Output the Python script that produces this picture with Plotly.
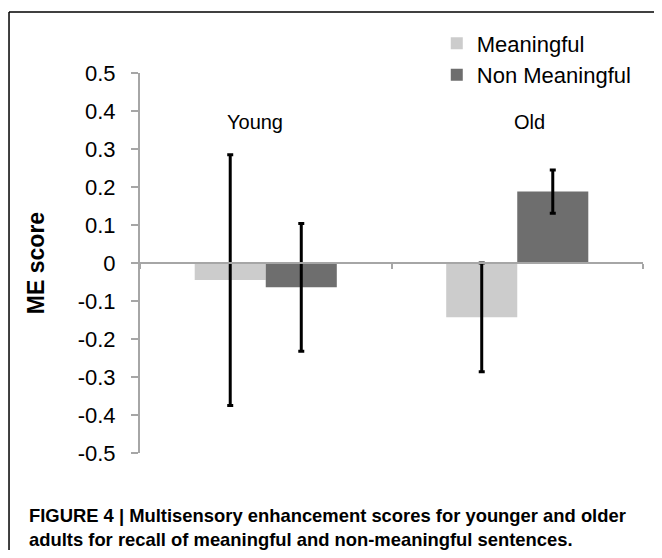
import plotly.graph_objects as go

# ---- data ----
groups = ["Young", "Old"]
series_names = ["Meaningful", "Non Meaningful"]
meaningful = [-0.045, -0.143]
non_meaningful = [-0.064, 0.188]
meaningful_err = [0.330, 0.143]
non_meaningful_err = [0.168, 0.057]
ytick_vals = [0.5, 0.4, 0.3, 0.2, 0.1, 0, -0.1, -0.2, -0.3, -0.4, -0.5]
ytick_text = ["0.5", "0.4", "0.3", "0.2", "0.1", "0", "-0.1", "-0.2", "-0.3", "-0.4", "-0.5"]
y_title = "ME score"
caption = ("FIGURE 4 | Multisensory enhancement scores for younger and older<br>"
           "adults for recall of meaningful and non-meaningful sentences.")

FONT = "Liberation Sans, Arial, sans-serif"
AXIS_GREY = "#a6a6a6"

fig = go.Figure()
fig.add_trace(go.Bar(
    x=groups, y=meaningful, name=series_names[0],
    marker=dict(color="#cccccc", line=dict(width=0)),
    error_y=dict(type="data", array=meaningful_err, symmetric=True,
                 color="black", thickness=3, width=3),
))
fig.add_trace(go.Bar(
    x=groups, y=non_meaningful, name=series_names[1],
    marker=dict(color="#6e6e6e", line=dict(width=0)),
    error_y=dict(type="data", array=non_meaningful_err, symmetric=True,
                 color="black", thickness=3, width=3),
))

fig.update_layout(
    width=646, height=542,
    margin=dict(l=132, r=11, t=65, b=97),
    paper_bgcolor="white", plot_bgcolor="white",
    barmode="group", bargap=0.435, bargroupgap=0,
    font=dict(family=FONT, color="black"),
    showlegend=True,
    legend=dict(
        x=0.59, y=1.133, xanchor="left", yanchor="top",
        font=dict(size=22, family=FONT, color="black"),
        bgcolor="rgba(0,0,0,0)", borderwidth=0,
        tracegroupgap=0, itemsizing="constant", maxheight=400,
    ),
    xaxis=dict(
        type="category", range=[-0.5, 1.5],
        anchor="free", position=0.5,
        showline=True, linecolor=AXIS_GREY, linewidth=2,
        ticks="outside", tickson="boundaries", ticklen=5, tickwidth=2,
        tickcolor=AXIS_GREY, showticklabels=False, showgrid=False,
        zeroline=False,
    ),
    yaxis=dict(
        range=[-0.5, 0.5], tickmode="array", tickvals=ytick_vals, ticktext=ytick_text,
        showline=True, linecolor=AXIS_GREY, linewidth=2,
        ticks="outside", ticklen=7, tickwidth=2, tickcolor=AXIS_GREY,
        ticklabelstandoff=11,
        tickfont=dict(size=22, family=FONT, color="black"),
        showgrid=False, zeroline=False,
        title=dict(text="<b>" + y_title + "</b>", font=dict(size=23, family=FONT, color="black"),
                   standoff=27),
    ),
)

for name, px in [("Young", 0.2286), ("Old", 0.775)]:
    fig.add_annotation(text=name, x=px, y=0.871, xref="paper", yref="paper",
                       showarrow=False, xanchor="center", yanchor="middle",
                       font=dict(size=20, family=FONT, color="black"))

fig.add_annotation(text="<b>" + caption + "</b>", x=-0.2247, y=-0.131,
                   xref="paper", yref="paper", showarrow=False,
                   xanchor="left", yanchor="top", align="left",
                   font=dict(size=18.4, family=FONT, color="black"))

# figure frame: top and left edges (the rest runs off the page)
frame_left, frame_top, frame_right, frame_bottom = -0.2604, 1.1605, 1.0219, -0.2553
fig.add_shape(type="line", xref="paper", yref="paper",
              x0=frame_left, y0=frame_top, x1=frame_right, y1=frame_top,
              line=dict(color="black", width=1.5), layer="above")
fig.add_shape(type="line", xref="paper", yref="paper",
              x0=frame_left, y0=frame_top, x1=frame_left, y1=frame_bottom,
              line=dict(color="black", width=1.5), layer="above")

fig.write_html("out.html")
